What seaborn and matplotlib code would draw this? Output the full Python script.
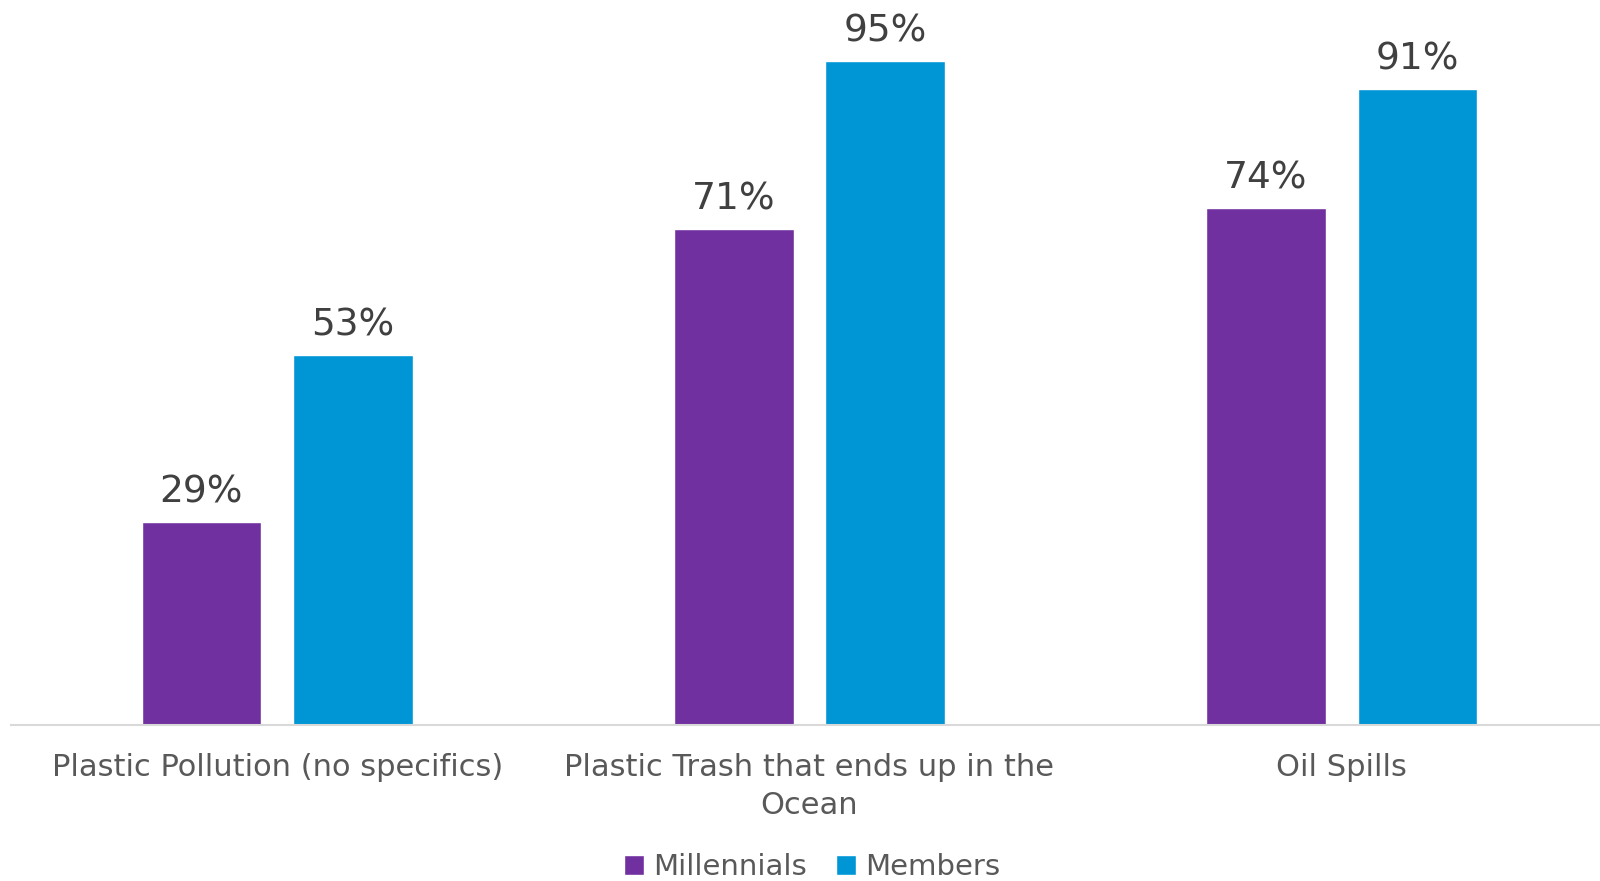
import matplotlib
matplotlib.use("Agg")
import matplotlib.pyplot as plt
import seaborn as sns
import pandas as pd

# Survey results: share of each group concerned about the issue (%)
categories = ["Plastic Pollution (no specifics)",
              "Plastic Trash that ends up in the\nOcean",
              "Oil Spills"]
millennials = [29, 71, 74]
members = [53, 95, 91]
groups = ["Millennials", "Members"]
colors = ["#7030A0", "#0096D6"]

df = pd.DataFrame({
    "Category": categories * 2,
    "Group": [groups[0]] * 3 + [groups[1]] * 3,
    "Value": millennials + members,
})

sns.set_theme(style="white")
plt.rcParams["font.family"] = ["DejaVu Sans"]

fig = plt.figure(figsize=(16, 8.81), dpi=100)
ax = fig.add_axes([11 / 1600, 1 - 725 / 881, (1608 - 11) / 1600, 698.7 / 881])

sns.barplot(data=df, x="Category", y="Value", hue="Group",
            palette=colors, order=categories, hue_order=groups,
            width=0.569, gap=0.211, saturation=1, legend=True, ax=ax)

ax.set_ylim(0, 100)
ax.set_xlim(-0.5, 2.5)
ax.set_xlabel("")
ax.set_ylabel("")
ax.set_yticks([])
for s in ["top", "left", "right"]:
    ax.spines[s].set_visible(False)
ax.spines["bottom"].set_color("#D9D9D9")
ax.spines["bottom"].set_linewidth(1.5)
ax.tick_params(axis="x", length=0, pad=20, labelsize=22, labelcolor="#595959")
ax.set_xticks(range(len(categories)))
ax.set_xticklabels(categories, linespacing=1.4)

for container in ax.containers:
    for bar in container:
        h = bar.get_height()
        ax.annotate(f"{h:.0f}%", (bar.get_x() + bar.get_width() / 2, h),
                    xytext=(0, 14), textcoords="offset points",
                    ha="center", va="baseline", fontsize=27, color="#404040")

handles, labels = ax.get_legend_handles_labels()
ax.get_legend().remove()
fig.legend(handles, labels, loc="lower center", bbox_to_anchor=(812 / 1600, -0.03),
           ncol=2, frameon=False, fontsize=21, labelcolor="#595959",
           handlelength=0.7, handleheight=0.7, handletextpad=0.3, columnspacing=1.0)

fig.savefig("out.png", dpi=100, facecolor="white")
